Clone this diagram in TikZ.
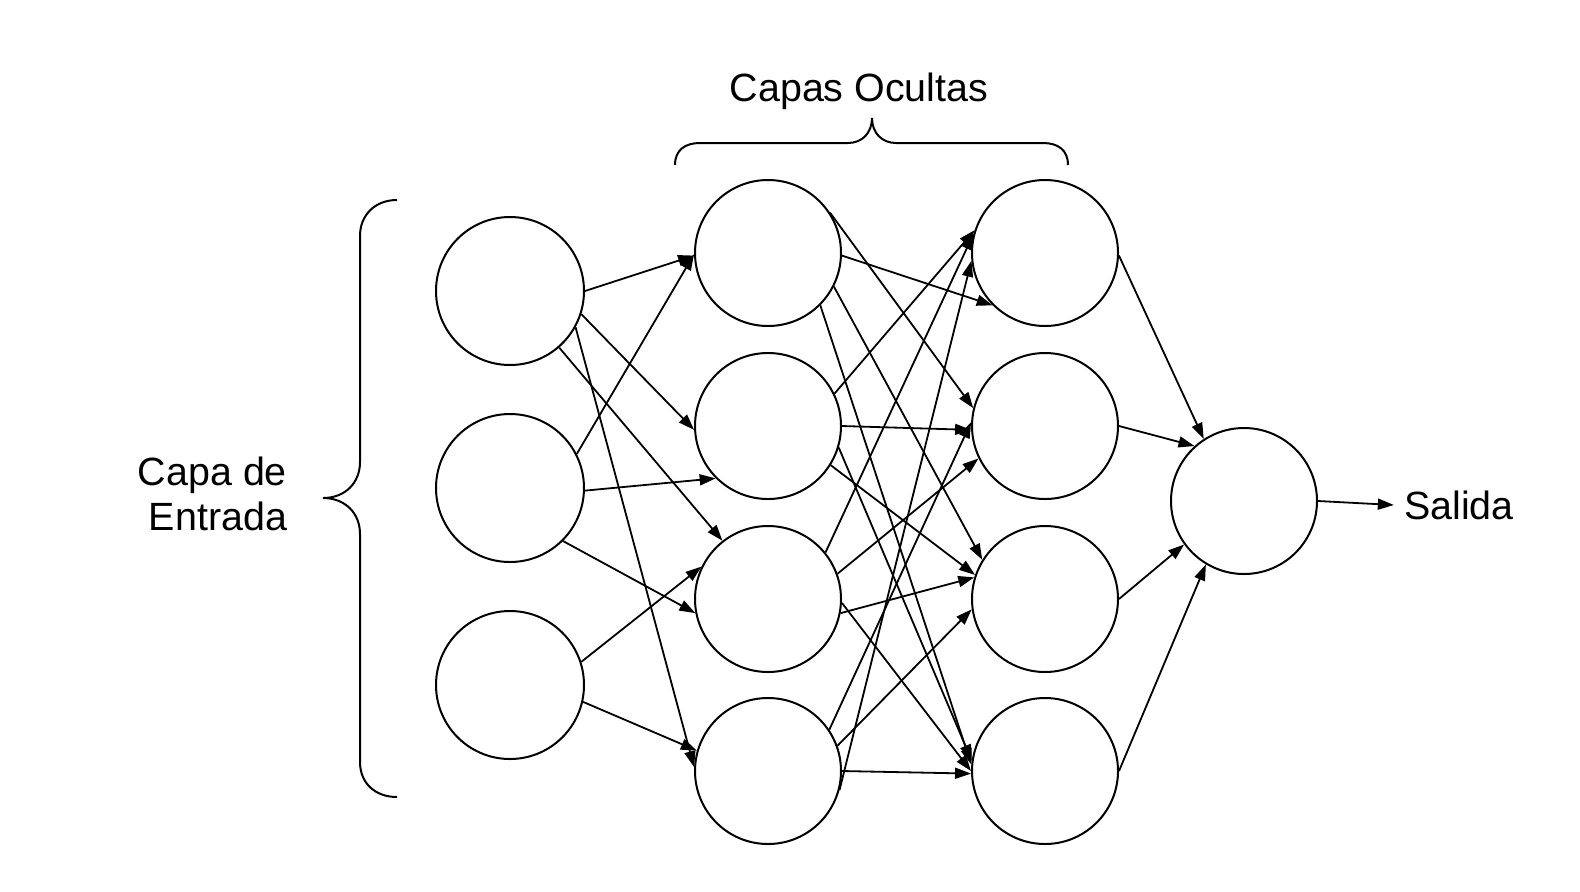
\documentclass[tikz,border=0pt]{standalone}
\usepackage{fontspec}
\setmainfont{Liberation Sans}
\usetikzlibrary{arrows.meta}

\begin{document}
\begin{tikzpicture}[x=0.5pt, y=-0.5pt,
  neuron/.style={draw, circle, line width=1pt, minimum size=73pt, inner sep=0pt},
  conn/.style={-{Triangle[length=8pt,width=5.5pt]}, line width=0.9pt},
  lbl/.style={font=\fontsize{19.7pt}{22.5pt}\selectfont}]
  \useasboundingbox (0,0) rectangle (1580,891);
  % capa de entrada
  \node[neuron, minimum size=74pt] (in1) at (510,291) {};
  \node[neuron, minimum size=74pt] (in2) at (510,488) {};
  \node[neuron, minimum size=74pt] (in3) at (510,685) {};
  % capas ocultas
  \node[neuron] (h1a) at (768,253) {};
  \node[neuron] (h1b) at (768,426) {};
  \node[neuron] (h1c) at (768,599) {};
  \node[neuron] (h1d) at (768,771) {};
  \node[neuron] (h2a) at (1045,253) {};
  \node[neuron] (h2b) at (1045,426) {};
  \node[neuron] (h2c) at (1045,599) {};
  \node[neuron] (h2d) at (1045,771) {};
  % salida
  \node[neuron] (out) at (1244,501) {};
  \node[lbl, inner sep=5pt] (salida) at (1459,505) {Salida};
  \node[lbl] (ocultas) at (859,91) {Capas Ocultas};
  \node[lbl, align=right, anchor=east] (entrada) at (294,494) {Capa de\\Entrada};

  % entrada -> primera capa oculta
  \draw[conn] (in1.0) -- (h1a.182);
  \draw[conn] (in1.-18) -- (h1b.183);
  \draw[conn] (in1.-49) -- (h1c.128);
  \draw[conn] (in1.-29) -- (h1d.177);
  \draw[conn] (in2.27) -- (h1a.181);
  \draw[conn] (in2.-2) -- (h1b.225);
  \draw[conn] (in2.-45) -- (h1c.191);
  \draw[conn] (in3.18) -- (h1c.154);
  \draw[conn] (in3.-13) -- (h1d.164);

  % primera -> segunda capa oculta
  \draw[conn] (h1a.-2) -- (h2a.-135);
  \draw[conn] (h1a.33) -- (h2b.166);
  \draw[conn] (h1a.-27) -- (h2c.148);
  \draw[conn] (h1a.-45) -- (h2d.175);
  \draw[conn] (h1b.26) -- (h2a.162);
  \draw[conn] (h1b.0) -- (h2b.183);
  \draw[conn] (h1b.-32) -- (h2c.161);
  \draw[conn] (h1b.-17) -- (h2d.172);
  \draw[conn] (h1c.39) -- (h2a.165);
  \draw[conn] (h1c.20) -- (h2b.206);
  \draw[conn] (h1c.-11) -- (h2c.163);
  \draw[conn] (h1c.-3) -- (h2d.180);
  \draw[conn] (h1d.-15) -- (h2a.186);
  \draw[conn] (h1d.34) -- (h2b.177);
  \draw[conn] (h1d.20) -- (h2c.188);
  \draw[conn] (h1d.0) -- (h2d.182);

  % segunda capa oculta -> salida
  \draw[conn] (h2a.-2) -- (out.123);
  \draw[conn] (h2b.0) -- (out.132);
  \draw[conn] (h2c.0) -- (out.216);
  \draw[conn] (h2d.0) -- (out.239);
  \draw[conn] (out.0) -- (salida.west);

  % llaves
  \draw[line width=1pt] (397,200) .. controls (375,200) and (360,215) .. (360,236)
    -- (360,462) .. controls (360,483) and (345,498) .. (323,498)
    .. controls (345,498) and (360,513) .. (360,534)
    -- (360,762) .. controls (360,783) and (375,797) .. (397,797);
  \draw[line width=1pt] (675,165) .. controls (675,150) and (685,143) .. (700,143)
    -- (848,143) .. controls (862,143) and (872,133) .. (872,118)
    .. controls (872,133) and (882,143) .. (896,143)
    -- (1043,143) .. controls (1058,143) and (1068,150) .. (1068,165);
\end{tikzpicture}
\end{document}
